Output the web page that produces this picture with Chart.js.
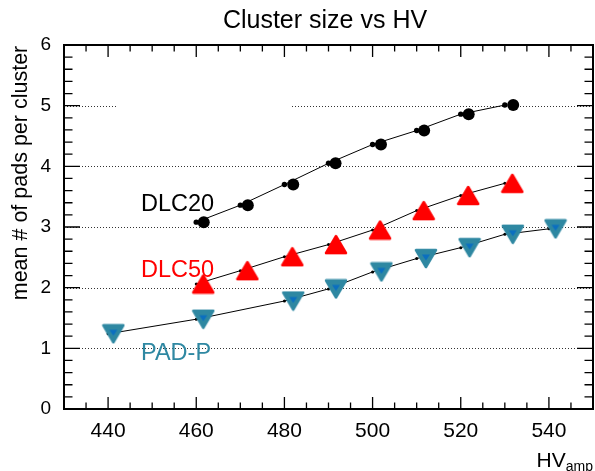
<!DOCTYPE html>
<html>
<head>
<meta charset="utf-8">
<script src="https://cdn.jsdelivr.net/npm/chart.js@4.4.1/dist/chart.umd.min.js"></script>
<style>
  html, body { margin: 0; padding: 0; background: #fff; }
  #wrap { width: 595px; height: 471px; }
</style>
</head>
<body>
<div id="wrap"><canvas id="hvChart" width="595" height="471"></canvas></div>
<script>
// valores
const xTicks = [440, 460, 480, 500, 520, 540];
const yTicks = [0, 1, 2, 3, 4, 5, 6];

const hvDLC20 = [460, 470, 480, 490, 500, 510, 520, 530];
const hvDLC20Marker = [461.7, 471.7, 482.0, 491.6, 501.9, 511.7, 521.8, 531.9];
const sizeDLC20 = [3.08, 3.36, 3.70, 4.05, 4.36, 4.59, 4.86, 5.01];

const hvDLC50 = [460, 470, 480, 490, 500, 510, 520, 530];
const hvDLC50Marker = [461.6, 471.6, 481.8, 491.7, 501.7, 511.6, 521.7, 531.7];
const sizeDLC50 = [2.06, 2.28, 2.51, 2.71, 2.95, 3.27, 3.52, 3.72];

const hvPADP = [440, 460, 480, 490, 500, 510, 520, 530, 540];
const hvPADPMarker = [441.2, 461.6, 482.0, 491.7, 502.0, 512.1, 522.0, 531.8, 541.5];
const sizePADP = [1.24, 1.48, 1.78, 1.98, 2.26, 2.48, 2.66, 2.88, 2.97];

const seriesNames = ['DLC20', 'DLC50', 'PAD-P'];
const seriesColors = ['#000000', '#ff0000', '#2f88a2'];

const pts = (xs, ys) => xs.map((x, i) => ({ x: x, y: ys[i] }));

// marcadores triangulares (estilo ROOT)
function triMarker(fill, down, inner) {
    const w = 20, h = 17, pad = 2;
    const c = document.createElement('canvas');
    c.width = w + 2 * pad; c.height = h + 2 * pad;
    const g = c.getContext('2d');
    g.fillStyle = fill; g.strokeStyle = fill;
    g.lineWidth = 2.5; g.lineJoin = 'round';
    g.beginPath();
    if (down) {
        g.moveTo(pad, pad); g.lineTo(pad + w, pad); g.lineTo(pad + w / 2, pad + h);
    } else {
        g.moveTo(pad + w / 2, pad); g.lineTo(pad + w, pad + h); g.lineTo(pad, pad + h);
    }
    g.closePath(); g.fill(); g.stroke();
    if (inner) {
        const cx = pad + w / 2, cy = pad + h / 2 - 1;
        g.fillStyle = inner;
        g.beginPath();
        g.moveTo(cx - 4, cy - 3); g.lineTo(cx + 4, cy - 3); g.lineTo(cx, cy + 3);
        g.closePath(); g.fill();
    }
    return c;
}

const upRed = triMarker(seriesColors[1], false, null);
const downTeal = triMarker(seriesColors[2], true, '#0b6fc0');

const rootFrame = {
    id: 'rootFrame',
    beforeDatasetsDraw(chart) {
        const ctx = chart.ctx;
        const a = chart.chartArea;
        const ys = chart.scales.y;
        ctx.save();
        // grade pontilhada
        ctx.strokeStyle = '#333';
        ctx.lineWidth = 1;
        ctx.setLineDash([1, 2]);
        for (let v = 1; v <= 5; v++) {
            const y = Math.round(ys.getPixelForValue(v)) + 0.5;
            ctx.beginPath();
            ctx.moveTo(a.left, y);
            ctx.lineTo(a.right, y);
            ctx.stroke();
        }
        ctx.setLineDash([]);
        // caixa branca (legenda vazia) sobre a grade
        ctx.fillStyle = '#fff';
        ctx.fillRect(118, ys.getPixelForValue(5) - 4, 173, 8);
        ctx.restore();
    },
    afterDatasetsDraw(chart) {
        const ctx = chart.ctx;
        const a = chart.chartArea;
        const xs = chart.scales.x, ys = chart.scales.y;
        ctx.save();
        ctx.strokeStyle = '#000';
        ctx.lineWidth = 1.3;
        // ticks x
        for (let v = 435; v < 550; v += 5) {
            const x = xs.getPixelForValue(v);
            const len = (v % 20 === 0) ? 12 : 6.5;
            ctx.beginPath();
            ctx.moveTo(x, a.bottom); ctx.lineTo(x, a.bottom - len);
            ctx.moveTo(x, a.top); ctx.lineTo(x, a.top + len);
            ctx.stroke();
        }
        // ticks y
        for (let k = 1; k < 30; k++) {
            const y = ys.getPixelForValue(k / 5);
            const len = (k % 5 === 0) ? 16 : 8.5;
            ctx.beginPath();
            ctx.moveTo(a.left, y); ctx.lineTo(a.left + len, y);
            ctx.moveTo(a.right, y); ctx.lineTo(a.right - len, y);
            ctx.stroke();
        }
        // moldura
        ctx.lineWidth = 2;
        ctx.strokeRect(a.left, a.top, a.right - a.left, a.bottom - a.top);

        // textos
        ctx.fillStyle = '#000';
        ctx.textBaseline = 'alphabetic';
        ctx.textAlign = 'center';
        ctx.font = '25px "Liberation Sans", Arial, sans-serif';
        ctx.fillText('Cluster size vs HV', 325, 28);

        ctx.save();
        ctx.translate(27, 173);
        ctx.rotate(-Math.PI / 2);
        ctx.font = '21.5px "Liberation Sans", Arial, sans-serif';
        ctx.fillText('mean # of pads per cluster', 0, 0);
        ctx.restore();

        ctx.textAlign = 'left';
        ctx.font = '14px "Liberation Sans", Arial, sans-serif';
        const wSub = ctx.measureText('amp').width;
        ctx.font = '21px "Liberation Sans", Arial, sans-serif';
        const wHV = ctx.measureText('HV').width;
        const x0 = 593 - wSub - wHV;
        ctx.fillText('HV', x0, 467);
        ctx.font = '14px "Liberation Sans", Arial, sans-serif';
        ctx.fillText('amp', x0 + wHV, 471);

        ctx.font = '23.5px "Liberation Sans", Arial, sans-serif';
        const labelY = [211, 277, 360];
        seriesNames.forEach((n, i) => {
            ctx.fillStyle = seriesColors[i];
            ctx.fillText(n, 141, labelY[i]);
        });
        ctx.restore();
    }
};

document.addEventListener('DOMContentLoaded', function() {
    const ctx = document.getElementById('hvChart').getContext('2d');
    new Chart(ctx, {
        type: 'scatter',
        data: {
            datasets: [
                // linhas com pontos pequenos
                { data: pts(hvDLC20, sizeDLC20), showLine: true, borderColor: '#000', borderWidth: 1,
                  pointRadius: 2.7, pointBackgroundColor: '#000', pointBorderWidth: 0, order: 2 },
                { data: pts(hvDLC50, sizeDLC50), showLine: true, borderColor: '#000', borderWidth: 1,
                  pointRadius: 1.5, pointBackgroundColor: '#000', pointBorderWidth: 0, order: 2 },
                { data: pts(hvPADP, sizePADP), showLine: true, borderColor: '#000', borderWidth: 1,
                  pointRadius: 1.5, pointBackgroundColor: '#000', pointBorderWidth: 0, order: 2 },
                // marcadores grandes
                { data: pts(hvDLC20Marker, sizeDLC20), pointStyle: 'circle', pointRadius: 6,
                  pointBackgroundColor: seriesColors[0], pointBorderWidth: 0, order: 1 },
                { data: pts(hvDLC50Marker, sizeDLC50), pointStyle: upRed, order: 1 },
                { data: pts(hvPADPMarker, sizePADP), pointStyle: downTeal, order: 1 }
            ]
        },
        options: {
            responsive: false,
            animation: false,
            layout: { autoPadding: false, padding: { top: 45, right: 2, left: 0, bottom: 0 } },
            plugins: {
                legend: { display: false },
                tooltip: { enabled: false },
                title: { display: false }
            },
            scales: {
                x: {
                    type: 'linear', min: 430, max: 550,
                    grid: { display: false }, border: { display: false },
                    afterBuildTicks: axis => { axis.ticks = xTicks.map(v => ({ value: v })); },
                    afterFit: axis => { axis.height = 62; axis.paddingLeft = 0; axis.paddingRight = 0; },
                    ticks: { autoSkip: false, maxRotation: 0, padding: 2, color: '#000',
                             font: { family: '"Liberation Sans", Arial, sans-serif', size: 21 } }
                },
                y: {
                    type: 'linear', min: 0, max: 6,
                    grid: { display: false }, border: { display: false },
                    afterBuildTicks: axis => { axis.ticks = yTicks.map(v => ({ value: v })); },
                    afterFit: axis => { axis.width = 64; axis.paddingTop = 0; axis.paddingBottom = 0; },
                    ticks: { autoSkip: false, padding: 5, color: '#000',
                             font: { family: '"Liberation Sans", Arial, sans-serif', size: 19 } }
                }
            }
        },
        plugins: [rootFrame]
    });
});
</script>
</body>
</html>
